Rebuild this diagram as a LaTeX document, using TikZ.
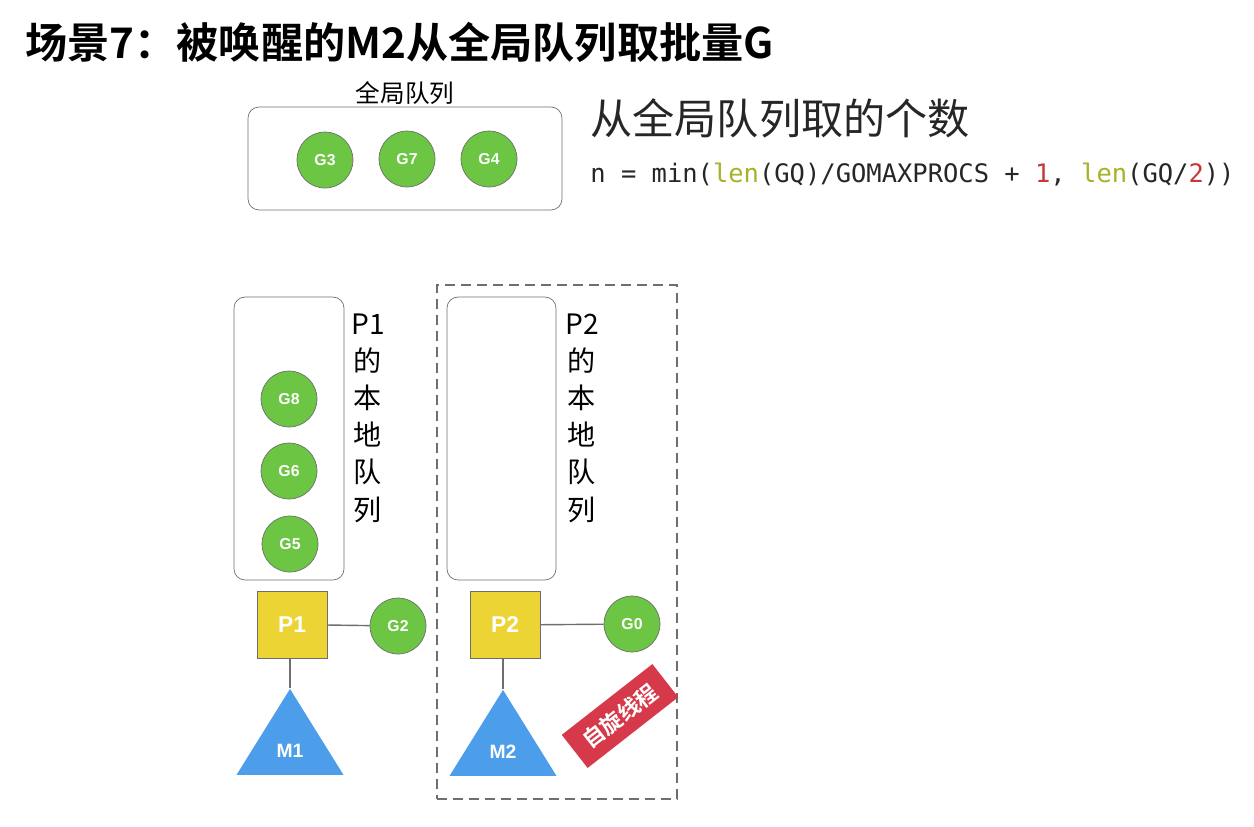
\documentclass[tikz,border=0pt]{standalone}
\usepackage{fontspec}
\usepackage{xcolor}
\usetikzlibrary{positioning, shapes.geometric}

\setmainfont{Liberation Sans}
\newfontfamily\cjk{Noto Sans CJK SC}[BoldFont={Noto Sans CJK SC Bold}]
\newfontfamily\codefont{DejaVu Sans Mono}

\definecolor{ggreen}{RGB}{108,198,68}
\definecolor{pyellow}{RGB}{236,212,52}
\definecolor{mblue}{RGB}{76,158,234}
\definecolor{tagred}{RGB}{214,58,74}
\definecolor{edgegray}{RGB}{110,110,110}
\definecolor{lencol}{RGB}{166,178,40}
\definecolor{numred}{RGB}{196,58,54}

\begin{document}
\begin{tikzpicture}[
			x=0.02cm, y=-0.02cm,
			node distance=1cm,
			gnode/.style={draw=edgegray, circle, fill=ggreen, minimum size=1.12cm, inner sep=0pt,
				text=white, font=\bfseries\fontsize{9}{9}\selectfont},
			queue/.style={draw=edgegray, rounded corners=0.22cm, inner sep=0pt},
			pnode/.style={draw=edgegray, fill=pyellow, minimum width=1.4cm, minimum height=1.34cm,
				inner sep=0pt, text=white, font=\bfseries\fontsize{13}{13}\selectfont},
			mnode/.style={fill=mblue, isosceles triangle, isosceles triangle stretches,
				shape border rotate=90, minimum width=2.14cm, minimum height=1.72cm, inner sep=0pt,
				text=white, font=\bfseries\fontsize{11}{11}\selectfont},
			link/.style={draw=edgegray, line width=0.8pt},
			qtext/.style={align=center, font=\cjk\fontsize{16}{21.2}\selectfont},
			spinbox/.style={draw=edgegray, dash pattern=on 0.2cm off 0.12cm, line width=0.8pt,
				minimum width=4.8cm, minimum height=10.28cm, inner sep=0pt},
			spintag/.style={fill=tagred, text=white, minimum width=2.3cm, minimum height=0.84cm,
				inner sep=0pt, font=\cjk\bfseries\fontsize{12.5}{12.5}\selectfont}
			]
			\useasboundingbox (0,0) rectangle (1254,826);
			
			% title
			\node[anchor=west, inner sep=0pt, font=\cjk\bfseries\fontsize{24}{24}\selectfont] (title) at (25,42) {场景7：被唤醒的M2从全局队列取批量G};
			
			% global queue
			\node[queue, minimum width=6.28cm, minimum height=2.06cm] (GQ) at (405,158.5) {};
			\node[above=1pt of GQ, inner sep=0pt, font=\cjk\fontsize{14}{14}\selectfont] (GQlabel) {全局队列};
			\node[gnode] (G3) at (325,160) {G3};
			\node[gnode] (G7) at (407,159) {G7};
			\node[gnode] (G4) at (489,159) {G4};
			
			% how many G are taken
			\node[anchor=west, inner sep=0pt, text=black!85, font=\cjk\fontsize{24}{24}\selectfont] (howmany) at (590,118) {从全局队列取的个数};
			\node[anchor=west, inner sep=0pt, text=black!85, font=\codefont\fontsize{14.5}{14.5}\selectfont] (formula) at (590,175)
				{n = min(\textcolor{lencol}{len}(GQ)/GOMAXPROCS + \textcolor{numred}{1}, \textcolor{lencol}{len}(GQ/\textcolor{numred}{2}))};
			
			% P1 with its local queue
			\node[queue, minimum width=2.2cm, minimum height=5.66cm] (LQ1) at (289,438.5) {};
			\node[qtext] (LQ1text) at (368,418) {P1\\的\\本\\地\\队\\列};
			\node[gnode] (G8) at (289,399) {G8};
			\node[gnode] (G6) at (289,471) {G6};
			\node[gnode] (G5) at (290,544) {G5};
			\node[pnode] (P1) at (292,624.5) {P1};
			\node[gnode] (G2) at (398,626) {G2};
			\node[mnode, anchor=apex] (M1) at (290,688) {M1};
			
			\draw[link] (P1) -- (G2);
			\draw[link] (P1.south -| M1.apex) -- (M1.apex);
			
			% P2 with its local queue, M2 spinning
			\node[spinbox] (spin) at (557,542) {};
			\node[queue, minimum width=2.18cm, minimum height=5.66cm] (LQ2) at (501.5,438.5) {};
			\node[qtext] (LQ2text) at (582,418) {P2\\的\\本\\地\\队\\列};
			\node[pnode] (P2) at (505,625) {P2};
			\node[gnode] (G0) at (632,624) {G0};
			\node[mnode, anchor=apex] (M2) at (503,689) {M2};
			\node[spintag, rotate=38] (tag) at (620,716) {自旋线程};
			
			\draw[link] (P2) -- (G0);
			\draw[link] (P2.south -| M2.apex) -- (M2.apex);
		\end{tikzpicture}
\end{document}
